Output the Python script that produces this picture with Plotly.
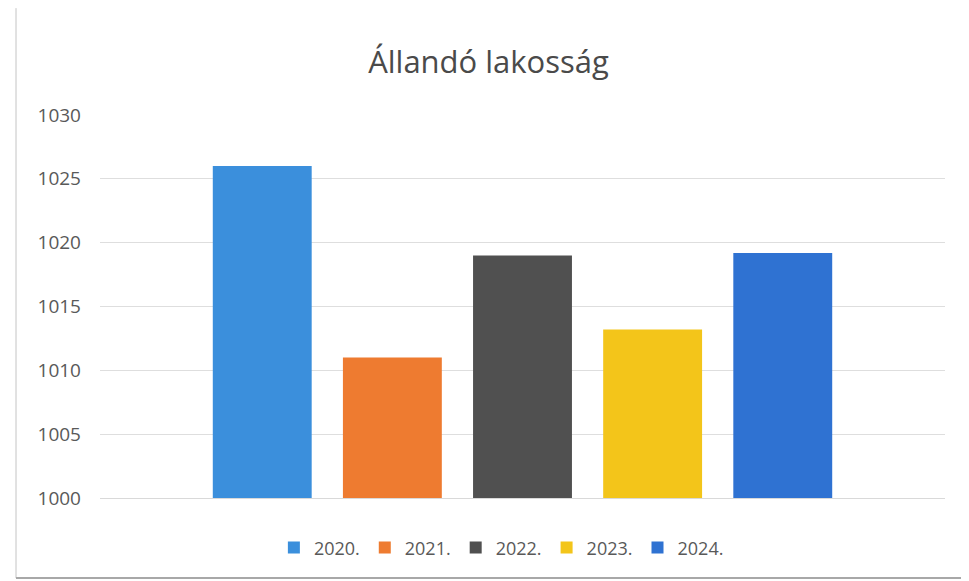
import plotly.graph_objects as go

years = ["2020.", "2021.", "2022.", "2023.", "2024."]
values = [1026, 1011, 1019, 1013.2, 1019.2]
colors = ["#3b8fdc", "#ee7b30", "#505050", "#f3c51a", "#2f72d2"]
tick_vals = [1000, 1005, 1010, 1015, 1020, 1025, 1030]

fig = go.Figure()
for name, v, c in zip(years, values, colors):
    fig.add_trace(go.Bar(x=[""], y=[v - 1000], base=1000, name=name,
                         marker=dict(color=c, line=dict(width=0))))

fig.update_layout(
    width=961, height=573,
    paper_bgcolor="white", plot_bgcolor="white",
    barmode="group", bargap=0.23, bargroupgap=0.24,
    margin=dict(l=92, r=24, t=107, b=83),
    font=dict(family="Open Sans", color="#595959", size=18),
    title=dict(text="Állandó lakosság", x=0.5, xanchor="center", y=0.906, yanchor="middle",
               font=dict(size=31, color="#4a4a4a", family="Open Sans")),
    legend=dict(orientation="h", x=0.475, xanchor="center", y=-0.13, yanchor="middle",
                font=dict(size=18, color="#595959"), itemwidth=30,
                traceorder="normal"),
    yaxis=dict(range=[1000, 1030], tickvals=tick_vals, showgrid=True,
               gridcolor="#dedede", gridwidth=1, zeroline=False, showline=False,
               ticks="", ticklabelstandoff=18, tickfont=dict(size=19, color="#595959")),
    xaxis=dict(showticklabels=False, showgrid=False, zeroline=False,
               showline=True, linecolor="#d9d9d9", ticks=""),
    shapes=[
        dict(type="line", xref="paper", yref="paper", x0=-0.0994, x1=-0.0994,
             y0=-0.209, y1=1.279, line=dict(color="#c4c4c4", width=1)),
        dict(type="line", xref="paper", yref="paper", x0=-0.0994, x1=1.028,
             y0=-0.209, y1=-0.209, line=dict(color="#a8a8a8", width=2)),
    ],
)

fig.write_html("out.html")
